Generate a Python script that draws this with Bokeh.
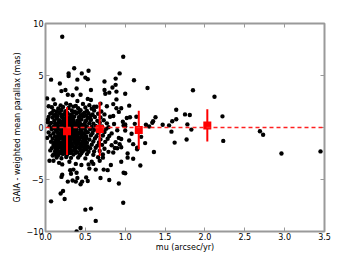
from bokeh.plotting import figure
from bokeh.models import Span, LinearAxis, FixedTicker, PrintfTickFormatter
from bokeh.embed import file_html
from bokeh.resources import INLINE

# ---- data ----
core_mu = [
    0.12,0.19,0.26,0.31,0.38,0.47,0.55,
    0.08,0.16,0.22,0.29,0.35,0.41,0.50,0.58,0.64,
    0.10,0.14,0.20,0.25,0.33,0.37,0.44,0.52,0.61,0.70,
    0.06,0.13,0.18,0.23,0.28,0.32,0.39,0.46,0.54,0.59,0.66,0.74,
    0.04,0.09,0.15,0.21,0.26,0.30,0.36,0.42,0.48,0.53,0.62,0.69,0.81,
    0.03,0.11,0.17,0.22,0.27,0.31,0.35,0.40,0.45,0.51,0.57,0.65,0.73,
    0.07,0.12,0.16,0.20,0.24,0.29,0.33,0.37,0.43,0.49,0.55,0.60,0.68,0.77,0.86,
    0.05,0.10,0.14,0.19,0.23,0.28,0.32,0.36,0.41,0.46,0.52,0.58,0.63,0.71,0.79,
    0.08,0.13,0.18,0.22,0.26,0.30,0.34,0.39,0.44,0.50,0.56,0.61,0.70,0.76,0.90,
    0.04,0.10,0.15,0.19,0.24,0.28,0.33,0.38,0.42,0.47,0.53,0.59,0.66,0.74,0.83,
    0.06,0.12,0.17,0.21,0.25,0.30,0.35,0.40,0.45,0.51,0.57,0.64,0.72,0.80,
    0.09,0.14,0.18,0.23,0.27,0.32,0.37,0.43,0.48,0.55,0.62,0.69,0.78,0.95,
    0.07,0.11,0.16,0.20,0.26,0.31,0.36,0.41,0.46,0.52,0.60,0.67,0.75,0.88,
    0.10,0.15,0.21,0.25,0.29,0.34,0.39,0.44,0.50,0.58,0.65,0.71,0.83,
    0.08,0.13,0.19,0.24,0.30,0.36,0.42,0.49,0.56,0.63,0.74,0.87,
    0.12,0.18,0.23,0.28,0.33,0.40,0.47,0.54,0.61,0.68,0.79,
    0.10,0.16,0.22,0.27,0.35,0.43,0.52,0.60,0.72,
    0.14,0.20,0.26,0.32,0.41,0.50,0.66,
    0.14,0.24,0.33,0.43,0.56,
    0.19,0.25,0.34,0.42,0.50,
    0.15,0.21,0.27,0.35,0.45,
    0.17,0.25,0.31,0.38,0.48,
    0.14,0.21,0.27,0.36,0.45,
    0.16,0.23,0.32,0.39,0.49,
    0.15,0.22,0.29,0.38,0.46,
    0.13,0.24,0.29,0.39,0.50,
    0.17,0.27,0.35,0.42,0.49,
    0.11,0.20,0.33,0.44,0.51,0.57,
    0.13,0.18,0.23,0.28,0.33,0.38,0.43,0.48,
    0.12,0.17,0.22,0.27,0.32,0.38,0.46,0.53,
    0.15,0.21,0.26,0.31,0.37,0.44,0.51,
    0.14,0.20,0.25,0.31,0.38,0.45,
    0.26,0.30,0.34,0.39,0.44,0.49,
    0.20,0.26,0.30,0.35,0.40,0.44,
    0.18,0.22,0.27,0.31,0.35,0.40,
    0.19,0.25,0.34,0.41,0.51,
]
core_dpar = [
    2.25,2.12,2.31,2.18,2.08,2.27,2.15,
    1.95,1.83,1.97,1.88,2.01,1.86,1.93,1.81,1.99,
    1.62,1.55,1.68,1.57,1.64,1.51,1.66,1.58,1.63,1.54,
    1.33,1.24,1.36,1.27,1.31,1.22,1.35,1.28,1.37,1.25,1.32,1.26,
    1.02,0.95,1.06,0.97,1.04,0.93,1.05,0.99,1.07,0.94,1.01,0.96,1.03,
    0.74,0.66,0.71,0.63,0.76,0.68,0.72,0.65,0.77,0.69,0.73,0.64,0.70,
    0.43,0.36,0.45,0.38,0.41,0.34,0.46,0.39,0.44,0.35,0.42,0.37,0.45,0.40,0.33,
    0.12,0.05,0.14,0.07,0.11,0.03,0.15,0.08,0.13,0.04,0.10,0.06,0.14,0.09,0.02,
    -0.17,-0.24,-0.15,-0.22,-0.19,-0.26,-0.14,-0.21,-0.18,-0.25,-0.16,-0.23,-0.20,-0.13,-0.27,
    -0.47,-0.55,-0.44,-0.52,-0.49,-0.56,-0.45,-0.51,-0.48,-0.54,-0.46,-0.53,-0.50,-0.43,-0.57,
    -0.78,-0.85,-0.74,-0.82,-0.79,-0.87,-0.76,-0.83,-0.80,-0.86,-0.75,-0.84,-0.77,-0.81,
    -1.07,-1.15,-1.04,-1.12,-1.09,-1.17,-1.06,-1.13,-1.10,-1.16,-1.05,-1.14,-1.08,-1.11,
    -1.37,-1.45,-1.34,-1.42,-1.39,-1.47,-1.36,-1.43,-1.40,-1.46,-1.35,-1.44,-1.38,-1.41,
    -1.68,-1.75,-1.64,-1.72,-1.69,-1.77,-1.66,-1.73,-1.70,-1.65,-1.74,-1.67,-1.71,
    -1.98,-2.05,-1.94,-2.02,-1.99,-2.07,-1.96,-2.03,-2.00,-1.95,-2.04,-1.97,
    -2.28,-2.35,-2.24,-2.32,-2.29,-2.37,-2.26,-2.33,-2.30,-2.25,-2.34,
    -2.58,-2.65,-2.54,-2.62,-2.59,-2.67,-2.56,-2.63,-2.60,
    -2.88,-2.95,-2.84,-2.92,-2.89,-2.97,-2.86,
    0.86,0.82,0.88,0.84,0.85,
    0.56,0.52,0.58,0.54,0.57,
    0.26,0.22,0.28,0.24,0.27,
    -0.04,-0.08,-0.02,-0.06,-0.03,
    -0.34,-0.38,-0.32,-0.36,-0.33,
    -0.64,-0.68,-0.62,-0.66,-0.63,
    -0.94,-0.98,-0.92,-0.96,-0.93,
    -1.24,-1.28,-1.22,-1.26,-1.23,
    1.47,1.42,1.45,1.49,1.43,
    1.16,1.12,1.18,1.13,1.17,1.14,
    -1.54,-1.58,-1.52,-1.57,-1.55,-1.51,-1.59,-1.53,
    -1.84,-1.88,-1.82,-1.86,-1.83,-1.87,-1.85,-1.81,
    -2.14,-2.18,-2.12,-2.16,-2.13,-2.17,-2.11,
    -2.44,-2.48,-2.42,-2.46,-2.43,-2.47,
    0.17,0.20,0.16,0.19,0.18,0.21,
    -0.58,-0.61,-0.59,-0.62,-0.60,-0.57,
    0.50,0.47,0.49,0.51,0.48,0.50,
    -1.00,-1.03,-1.01,-0.99,-1.02,
]
outer_mu = [
    0.21,0.975,0.93,0.36,0.54,0.29,0.29,0.455,0.50,0.53,0.07,0.40,1.11,0.88,0.18,0.74,
    0.88,1.28,0.39,0.84,0.74,0.57,0.89,0.20,0.25,0.75,0.80,1.00,0.02,0.10,0.28,0.34,
    0.44,0.53,0.57,0.89,0.40,1.05,0.85,0.77,0.61,0.69,0.89,0.95,1.64,1.14,1.02,1.06,
    0.92,1.38,1.35,1.34,1.59,1.64,1.26,1.47,1.55,1.00,1.00,0.04,
    1.85,2.12,1.75,1.81,2.22,1.78,1.77,1.83,2.23,2.69,2.73,2.96,3.45,
    0.07,0.19,0.22,0.24,0.50,0.57,0.63,0.44,0.39,0.975,0.92,0.80,0.69,0.20,0.21,0.28,
    0.34,0.38,0.44,0.46,0.53,0.40,0.51,0.32,0.39,0.31,0.35,0.55,0.45,0.54,0.60,0.63,
    0.73,0.78,0.98,1.00,1.19,1.36,1.62,1.58,1.03,1.03,1.15,0.05,0.10,0.09,0.12,0.21,
    0.72,0.85,0.93,1.05,1.08,1.12,0.97,1.20,1.25,1.30,1.10,0.95,0.82,0.68,0.58,0.30,
    0.17,0.38,0.90,1.15,0.02,0.03,0.06,0.08,1.00,0.95,0.85,0.92,1.10,0.98,
]
outer_dpar = [
    8.73,6.80,5.20,5.70,5.45,5.20,4.95,5.20,4.80,4.65,4.60,4.60,4.55,4.70,4.23,4.42,
    4.10,3.80,3.75,3.85,3.60,3.60,3.45,3.50,3.60,3.25,3.35,3.25,2.80,2.70,3.15,3.10,
    3.15,2.75,2.65,2.70,2.55,2.10,2.25,2.05,2.00,2.30,1.85,1.85,1.70,1.04,0.92,0.98,
    1.50,0.98,0.60,0.45,0.60,0.80,0.26,0.26,0.20,0.30,0.10,2.05,
    3.58,2.96,1.26,1.20,1.07,0.30,-1.16,-0.20,-1.29,-0.36,-0.70,-2.50,-2.30,
    -7.10,-6.34,-6.10,-6.87,-7.90,-7.80,-8.98,-9.66,-10.0,-7.24,-5.38,-5.05,-4.85,-4.75,-4.55,-5.20,
    -5.10,-5.20,-5.45,-5.20,-5.15,-4.85,-4.80,-4.45,-4.35,-4.10,-4.05,-3.95,-3.60,-3.55,-3.50,-4.05,
    -4.05,-4.10,-4.35,-4.40,-3.65,-2.35,-1.45,-0.40,-2.50,-2.90,-1.95,-3.20,-3.20,-2.70,-2.60,-3.55,
    -2.90,-2.40,-1.60,-1.25,-0.60,0.35,0.55,-0.90,-1.50,0.10,-3.00,-3.30,-3.60,-3.20,-3.30,-3.30,
    -3.40,-3.50,-2.00,-2.10,-1.00,0.50,-2.20,1.40,-0.30,-1.90,1.10,-1.00,-1.60,0.20,
]
mu = core_mu + outer_mu
dpar = core_dpar + outer_dpar

bin_mu = [0.27, 0.68, 1.17, 2.03]
bin_mean = [-0.35, -0.15, -0.25, 0.20]
bin_err = [2.3, 2.6, 1.85, 1.55]

x_ticks = [0.0, 0.5, 1.0, 1.5, 2.0, 2.5, 3.0, 3.5]
y_ticks = [-10, -5, 0, 5, 10]

# ---- figure ----
FONT = "DejaVu Sans"
SPINE = "#9a9a9a"

p = figure(width=344, height=254, x_range=(0, 3.5), y_range=(-10, 10),
           output_backend="svg", toolbar_location=None,
           min_border_left=45, min_border_right=20,
           min_border_top=23, min_border_bottom=21,
           background_fill_color="white", border_fill_color="white")
p.grid.visible = False
p.outline_line_color = SPINE
p.outline_line_width = 2

bottom = p.below[0]
left = p.left[0]
top = LinearAxis()
right = LinearAxis()
p.add_layout(top, "above")
p.add_layout(right, "right")

for ax in [bottom, top]:
    ax.ticker = FixedTicker(ticks=x_ticks)
for ax in [left, right]:
    ax.ticker = FixedTicker(ticks=y_ticks)

for ax in [bottom, left, top, right]:
    ax.major_tick_in = 4
    ax.major_tick_out = 0
    ax.minor_tick_line_color = None
    ax.axis_line_color = None
    ax.major_tick_line_color = SPINE
    ax.major_tick_line_width = 1
    ax.major_label_text_font = FONT
    ax.major_label_text_font_size = "8px"
    ax.major_label_text_color = "black"
    ax.major_label_standoff = 2
    ax.axis_label_text_font = FONT
    ax.axis_label_text_font_size = "8px"
    ax.axis_label_text_font_style = "normal"
    ax.axis_label_text_color = "black"
    ax.axis_label_standoff = 2

bottom.major_label_standoff = 1
bottom.axis_label_standoff = 0

top.major_label_overrides = {t: "" for t in x_ticks}
right.major_label_overrides = {t: "" for t in y_ticks}
top.major_label_standoff = 0
right.major_label_standoff = 0

bottom.formatter = PrintfTickFormatter(format="%.1f")
left.major_label_overrides = {-10: "\u221210", -5: "\u22125"}
bottom.axis_label = "mu (arcsec/yr)"
left.axis_label = "GAIA - weighted mean parallax (mas)"

p.scatter(mu, dpar, size=4.4, color="black", line_color=None)

p.add_layout(Span(location=0, dimension="width", line_color="#ff2020",
                  line_dash="4 3", line_width=1.5))

lo = [m - e for m, e in zip(bin_mean, bin_err)]
hi = [m + e for m, e in zip(bin_mean, bin_err)]
p.segment(x0=bin_mu, y0=lo, x1=bin_mu, y1=hi, line_color="red", line_width=2)
p.scatter(bin_mu, bin_mean, marker="square", size=8, color="red", line_color=None)

open("out.html", "w").write(file_html(p, INLINE))
